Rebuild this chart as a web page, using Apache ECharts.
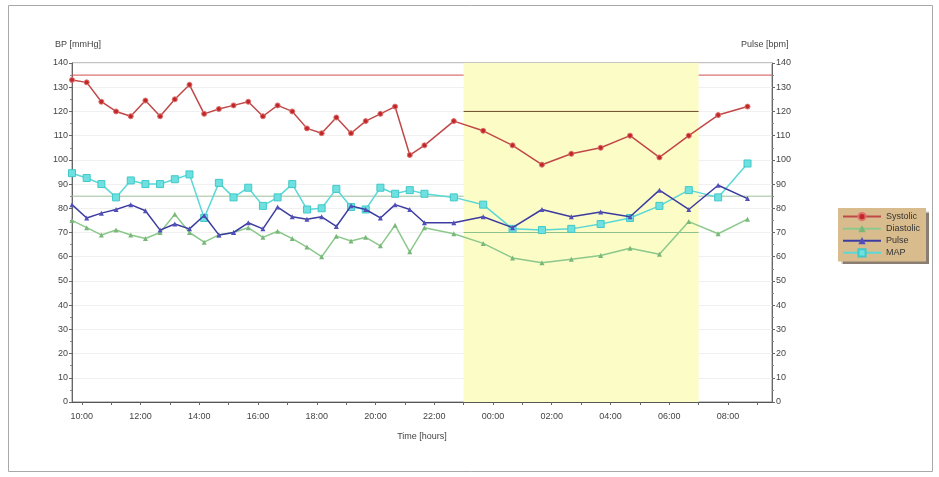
<!DOCTYPE html>
<html>
<head>
<meta charset="utf-8">
<script src="https://cdn.jsdelivr.net/npm/echarts@6/dist/echarts.min.js"></script>
<style>html,body{margin:0;padding:0;background:#fff}#c{width:939px;height:477px}</style>
</head>
<body>
<div id="c"></div>
<script>
// ---- data ----
const times = ['09:40','10:10','10:40','11:10','11:40','12:10','12:40','13:10','13:40','14:10','14:40','15:10','15:40','16:10','16:40','17:10','17:40','18:10','18:40','19:10','19:40','20:10','20:40','21:10','21:40','22:40','23:40','00:40','01:40','02:40','03:40','04:40','05:40','06:40','07:40','08:40'];
const systolic = [133,132,124,120,118,124.5,118,125,131,119,121,122.5,124,118,122.5,120,113,111,117.5,111,116,119,122,102,106,116,112,106,98,102.5,105,110,101,110,118.5,122];
const diastolic = [75,72,69,71,69,67.5,70,77.5,70,66,69,70,72,68,70.5,67.5,64,60,68.5,66.5,68,64.5,73,62,72,69.5,65.5,59.5,57.5,59,60.5,63.5,61,74.5,69.5,75.5];
const pulse = [81.5,76,78,79.5,81.5,79,71,73.5,71.5,77,69,70,74,71.5,80.5,76.5,75.5,76.5,72.5,81,79.5,76,81.5,79.5,74,74,76.5,72,79.5,76.5,78.5,76.5,87.5,79.5,89.5,84];
const map = [94.5,92.5,90,84.5,91.5,90,90,92,94,76,90.5,84.5,88.5,81,84.5,90,79.5,80,88,80.5,79.5,88.5,86,87.5,86,84.5,81.5,71.5,71,71.5,73.5,76,81,87.5,84.5,98.5];
const xTickLabels = ['10:00','12:00','14:00','16:00','18:00','20:00','22:00','00:00','02:00','04:00','06:00','08:00'];
const xHourTicks = ['10:00','11:00','12:00','13:00','14:00','15:00','16:00','17:00','18:00','19:00','20:00','21:00','22:00','23:00','00:00','01:00','02:00','03:00','04:00','05:00','06:00','07:00','08:00','09:00'];
const xRange = ['09:40','09:30'];
const nightPeriod = ['23:00','07:00'];
const dayLimits = {systolic:135, diastolic:85};
const nightLimits = {systolic:120, diastolic:70};

function toHours(t){const [h,m]=t.split(':').map(Number);let v=h+m/60;if(h<9||(h===9&&m<35&&t!=='09:40'))v+=24;return v;}
const xMin = toHours(xRange[0]);
const xMax = toHours(xRange[1]);
const nS = toHours(nightPeriod[0]), nE = toHours(nightPeriod[1]);
const xs = times.map(toHours);
const pair = arr => arr.map((v,i)=>[xs[i],v]);
function fmt(v){let h=Math.round(v)%24;return (h<10?'0':'')+h+':00';}

const limitLine = (data,color)=>({type:'line',data,symbol:'none',silent:true,lineStyle:{color,width:1},z:1,animation:false,legendHoverLink:false});

const chart = echarts.init(document.getElementById('c'),null,{renderer:'canvas'});
const font = 'Liberation Sans, Arial, sans-serif';
chart.setOption({
  animation:false,
  backgroundColor:'#fff',
  graphic:[
    {type:'rect',shape:{x:8.5,y:5.5,width:924,height:466},style:{fill:'none',stroke:'#a8a8a8',lineWidth:1},silent:true},
    {type:'text',left:55,top:40,style:{text:'BP [mmHg]',font:'9px '+font,fill:'#444'}},
    {type:'text',left:741,top:40,style:{text:'Pulse [bpm]',font:'9px '+font,fill:'#444'}}
  ],
  grid:{left:72,right:167,top:63,bottom:75,show:true,borderColor:'#8a8a8a',borderWidth:1},
  legend:{
    orient:'vertical',left:838,top:208,
    data:['Systolic','Diastolic','Pulse','MAP'],
    backgroundColor:'#d9bc8e',
    shadowColor:'rgba(60,40,20,0.6)',shadowOffsetX:3,shadowOffsetY:3,shadowBlur:1,
    padding:[4,6,4,4],itemGap:3,itemWidth:38,itemHeight:9,
    textStyle:{fontSize:9,color:'#333',fontFamily:font}
  },
  xAxis:{
    type:'value',min:xMin,max:xMax,
    name:'Time [hours]',nameLocation:'middle',nameGap:30,
    nameTextStyle:{fontSize:9,color:'#444',fontFamily:font},
    axisLine:{lineStyle:{color:'#555'}},
    axisTick:{customValues:xHourTicks.map(toHours),length:3,lineStyle:{color:'#666'}},
    axisLabel:{customValues:xTickLabels.map(toHours),formatter:fmt,fontSize:9,color:'#444',fontFamily:font,margin:10},
    splitLine:{show:false}
  },
  yAxis:[
    {type:'value',min:0,max:140,interval:10,
     axisLine:{show:true,lineStyle:{color:'#666'}},
     axisTick:{show:true,length:3,lineStyle:{color:'#666'}},
     minorTick:{show:true,splitNumber:2,length:2,lineStyle:{color:'#888'}},
     axisLabel:{fontSize:9,color:'#444',fontFamily:font,margin:4},
     splitLine:{show:true,lineStyle:{color:'#f0f0f0',width:1}}},
    {type:'value',min:0,max:140,interval:10,position:'right',
     axisLine:{show:true,lineStyle:{color:'#666'}},
     axisTick:{show:true,length:3,lineStyle:{color:'#666'}},
     minorTick:{show:true,splitNumber:2,length:2,lineStyle:{color:'#888'}},
     axisLabel:{fontSize:9,color:'#444',fontFamily:font,margin:4},
     splitLine:{show:false}}
  ],
  series:[
    {type:'line',name:'_night',data:[],silent:true,z:0,
     markArea:{silent:true,itemStyle:{color:'#fcfcc6'},data:[[{xAxis:nS},{xAxis:nE}]]}},
    limitLine([[xMin,dayLimits.systolic],[nS,dayLimits.systolic]],'#d05050'),
    limitLine([[nE,dayLimits.systolic],[xMax,dayLimits.systolic]],'#d05050'),
    limitLine([[xMin,dayLimits.diastolic],[nS,dayLimits.diastolic]],'#9ec09a'),
    limitLine([[nE,dayLimits.diastolic],[xMax,dayLimits.diastolic]],'#9ec09a'),
    limitLine([[nS,nightLimits.systolic],[nE,nightLimits.systolic]],'#6a4a2a'),
    limitLine([[nS,nightLimits.diastolic],[nE,nightLimits.diastolic]],'#8cc08c'),
    {type:'line',name:'MAP',data:pair(map),symbol:'rect',symbolSize:7,
     lineStyle:{color:'#5ad8d8',width:1.5},itemStyle:{color:'#6fe0e0',borderColor:'#40c8c8',borderWidth:1},z:3},
    {type:'line',name:'Diastolic',data:pair(diastolic),symbol:'triangle',symbolSize:5,
     lineStyle:{color:'#8cc88c',width:1.5},itemStyle:{color:'#7ab87a'},z:4},
    {type:'line',name:'Pulse',yAxisIndex:1,data:pair(pulse),symbol:'triangle',symbolSize:5,
     lineStyle:{color:'#3c3ca0',width:1.5},itemStyle:{color:'#5050b8'},z:5},
    {type:'line',name:'Systolic',data:pair(systolic),symbol:'circle',symbolSize:5,
     lineStyle:{color:'#c04848',width:1.5},itemStyle:{color:'#c02828',borderColor:'#e07070',borderWidth:1},z:6}
  ]
});
</script>
</body>
</html>
